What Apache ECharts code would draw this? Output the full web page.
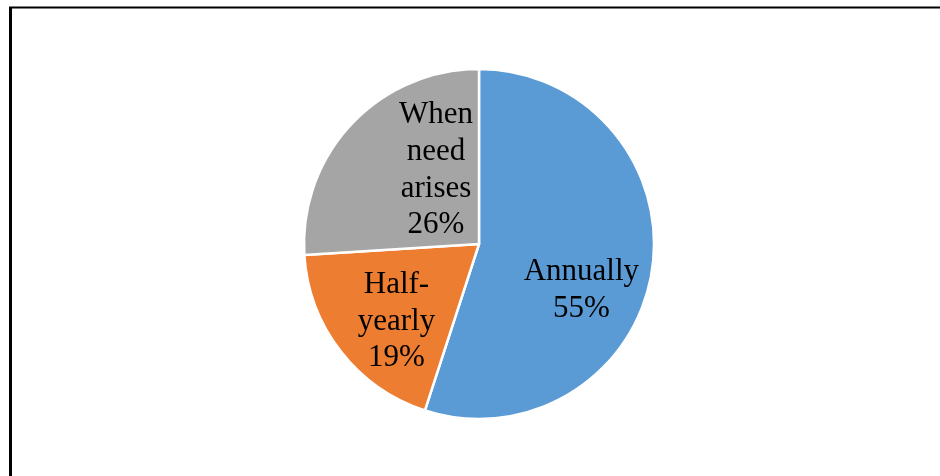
<!DOCTYPE html>
<html>
<head>
<meta charset="utf-8">
<script src="https://cdn.jsdelivr.net/npm/echarts@6/dist/echarts.min.js"></script>
<style>
html,body{margin:0;padding:0;background:#fff;}
#chart{width:940px;height:476px;}
</style>
</head>
<body>
<div id="chart"></div>
<script>
const categories = ['Annually', 'Half-yearly', 'When need arises'];
const values = [55, 19, 26];
const wrappedNames = ['Annually', 'Half-\nyearly', 'When\nneed\narises'];
const colors = ['#5B9BD5', '#ED7D31', '#A5A5A5'];
const labelOffsets = [[13, 32], [-11, 22], [23, -12]];

const chart = echarts.init(document.getElementById('chart'), null, {renderer: 'canvas'});
const data = categories.map((c, i) => ({
  name: c,
  value: values[i],
  itemStyle: {color: colors[i]},
  label: {offset: labelOffsets[i]}
}));

chart.setOption({
  animation: false,
  backgroundColor: '#ffffff',
  graphic: [
    {type: 'line', silent: true, shape: {x1: 10.5, y1: 7, x2: 10.5, y2: 476}, style: {stroke: '#000', lineWidth: 3}},
    {type: 'line', silent: true, shape: {x1: 9, y1: 7.5, x2: 940, y2: 7.5}, style: {stroke: '#000', lineWidth: 2}}
  ],
  series: [{
    type: 'pie',
    center: [479, 244],
    radius: [0, 175],
    startAngle: 90,
    clockwise: true,
    avoidLabelOverlap: false,
    emphasis: {disabled: true},
    itemStyle: {borderColor: '#ffffff', borderWidth: 2.5},
    label: {
      show: true,
      position: 'inside',
      color: '#000000',
      fontFamily: '"Liberation Serif", "Times New Roman", serif',
      fontSize: 31,
      lineHeight: 36.7,
      align: 'center',
      formatter: function (p) {
        return wrappedNames[p.dataIndex] + '\n' + p.value + '%';
      }
    },
    labelLine: {show: false},
    data: data
  }]
});
</script>
</body>
</html>
